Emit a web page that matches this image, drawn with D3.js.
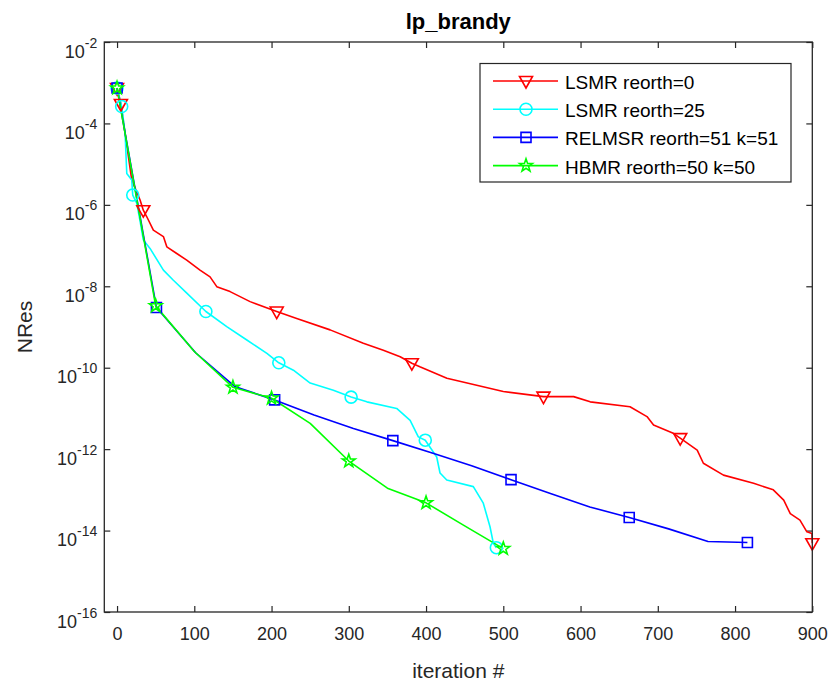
<!DOCTYPE html>
<html><head><meta charset="utf-8">
<script src="https://cdn.jsdelivr.net/npm/d3@7"></script>
<style>
body{margin:0;background:#fff;}
text{font-family:"Liberation Sans",Arial,Helvetica,sans-serif;}
</style>
</head><body>
<svg id="chart" width="834" height="688"></svg>
<script>
// ---------- data ----------
const chartTitle = "lp_brandy";
const xLabel = "iteration #";
const yLabel = "NRes";
const xTickValues = [0,100,200,300,400,500,600,700,800,900];
const yTickExponents = [-2,-4,-6,-8,-10,-12,-14,-16];
const seriesNames = ["LSMR reorth=0","LSMR reorth=25","RELMSR reorth=51 k=51","HBMR reorth=50 k=50"];

const lsmr0X = [0,5,19,29.8,34,38.5,47,60,64.4,77.3,90.2,107.4,120.4,129.1,146.3,172.2,206.7,232.6,275.8,318.8,344.7,366.5,381.6,392,427,500,552,591,612.5,664,686,694.5,720,729,751,759,785,824,849.5,863,871.5,884,893,899.5,900];
const lsmr0Y = [7.4e-4,3.0e-4,4.1e-6,1.32e-6,7.4e-7,5.1e-7,2.4e-7,1.66e-7,9.3e-8,6.4e-8,4.4e-8,2.5e-8,1.7e-8,9.8e-9,7.4e-9,4.2e-9,2.4e-9,1.62e-9,8.5e-10,4.0e-10,2.7e-10,1.86e-10,1.29e-10,1.05e-10,5.5e-11,2.6e-11,1.95e-11,1.95e-11,1.45e-11,1.1e-11,6.3e-12,3.9e-12,2.45e-12,1.86e-12,9.5e-13,4.5e-13,2.3e-13,1.45e-13,1.0e-13,5.6e-14,2.6e-14,1.8e-14,9.3e-15,8.5e-15,4.9e-15];
const lsmr0Marks = [0,1,4,16,22,26,33,44];

const lsmr25X = [0,6,10.4,12.6,19,20.3,25.5,29.8,34,42.7,60,72.9,90.3,115,142,168,194,209.4,228.3,250,280,303,323.4,362,379.4,390,399,413.8,418.1,426.8,461.2,474.1,482.8,487.1,491];
const lsmr25Y = [7.4e-4,2.6e-4,5.8e-5,5.9e-6,4.1e-6,1.74e-6,1.1e-6,4.0e-7,1.38e-7,8.5e-8,2.5e-8,1.41e-8,6.8e-9,2.4e-9,1.02e-9,4.8e-10,2.24e-10,1.32e-10,8.7e-11,4.2e-11,2.8e-11,1.9e-11,1.45e-11,1.0e-11,5.1e-12,2.0e-12,1.66e-12,6.4e-13,2.6e-13,1.74e-13,1.2e-13,4.7e-14,1.24e-14,4.9e-15,3.8e-15];
const lsmr25Marks = [0,1,5,13,17,21,26,34];

const relmsrX = [0,51,102,153,204,255,306,357,408,459,510,561,612,663,714,765,816];
const relmsrY = [7.4e-4,3.0e-9,2.3e-10,3.4e-11,1.62e-11,6.9e-12,3.2e-12,1.62e-12,8.0e-13,3.9e-13,1.78e-13,8.1e-14,3.8e-14,2.1e-14,1.1e-14,5.4e-15,5.1e-15];
const relmsrMarks = [0,1,4,7,10,13,16];

const hbmrX = [0,50,100,150,200,250,300,350,400,450,500];
const hbmrY = [7.4e-4,3.3e-9,2.5e-10,3.3e-11,1.78e-11,4.3e-12,5.1e-13,1.1e-13,4.8e-14,1.3e-14,3.6e-15];
const hbmrMarks = [0,1,3,4,6,8,10];

// ---------- styles ----------
const colors = ["#ff0000","#00ffff","#0000ff","#00ff00"];
const markerTypes = ["triDown","circle","square","star"];
const axisColor = "#262626";

const series = seriesNames.map((name,i)=>{
  const xs=[lsmr0X,lsmr25X,relmsrX,hbmrX][i], ys=[lsmr0Y,lsmr25Y,relmsrY,hbmrY][i];
  const marks=[lsmr0Marks,lsmr25Marks,relmsrMarks,hbmrMarks][i];
  return {name, color:colors[i], marker:markerTypes[i], pts: xs.map((x,j)=>({x, y:ys[j]})), marks};
});

const svg = d3.select("#chart");
const L=104.3, R=812.3, T=42, B=612;
const x = d3.scaleLinear().domain([-16.5,900]).range([L,R]);
const y = d3.scaleLog().domain([1e-16,1e-2]).range([B,T]);

function markerPath(type){
  if(type==="triDown") return "M-6.5,-4.5L6.5,-4.5L0,7Z";
  if(type==="square") return "M-5,-5L5,-5L5,5L-5,5Z";
  if(type==="circle") return d3.arc()({innerRadius:0,outerRadius:6,startAngle:0,endAngle:2*Math.PI});
  const Ro=6.8, Ri=2.7; let p="";
  for(let k=0;k<10;k++){const r=k%2?Ri:Ro; const a=-Math.PI/2+k*Math.PI/5; p+=(k?"L":"M")+(r*Math.cos(a)).toFixed(2)+","+(r*Math.sin(a)).toFixed(2);}
  return p+"Z";
}

// axes
const gx = svg.append("g").attr("transform",`translate(0,${B})`)
  .call(d3.axisBottom(x).tickValues(xTickValues).tickSizeInner(-6).tickSizeOuter(0).tickPadding(15));
const gxt = svg.append("g").attr("transform",`translate(0,${T})`)
  .call(d3.axisTop(x).tickValues(xTickValues).tickSizeInner(-6).tickSizeOuter(0).tickFormat(""));
const gy = svg.append("g").attr("transform",`translate(${L},0)`)
  .call(d3.axisLeft(y).tickValues(yTickExponents.map(e=>Math.pow(10,e))).tickSizeInner(-6).tickSizeOuter(0).tickPadding(10).tickFormat(""));
const gyr = svg.append("g").attr("transform",`translate(${R},0)`)
  .call(d3.axisRight(y).tickValues(yTickExponents.map(e=>Math.pow(10,e))).tickSizeInner(-6).tickSizeOuter(0).tickFormat(""));
[gx,gxt,gy,gyr].forEach(g=>{
  g.select(".domain").remove();
  g.selectAll(".tick line").attr("stroke",axisColor).attr("stroke-width",1.2);
});
gx.selectAll(".tick text").attr("fill",axisColor).attr("font-size",18)
  .style("font-family",'"Liberation Sans",Arial,sans-serif');
gy.selectAll(".tick text").each(function(d){
  const t=d3.select(this);
  const e=Math.round(Math.log10(d));
  t.text(null).attr("fill",axisColor).attr("font-size",18).attr("x",-7).attr("dy",null).attr("y",15)
   .style("font-family",'"Liberation Sans",Arial,sans-serif');
  t.append("tspan").text("10");
  t.append("tspan").attr("font-size",14).attr("dy",-10).text(String(e));
});

// lines
const line = d3.line().x(d=>x(d.x)).y(d=>y(d.y));
const plot = svg.append("g");
series.forEach(s=>{
  plot.append("path").datum(s.pts).attr("d",line).attr("fill","none")
    .attr("stroke",s.color).attr("stroke-width",1.6).attr("stroke-linejoin","round");
});
series.forEach(s=>{
  plot.selectAll(null).data(s.marks.map(i=>s.pts[i])).enter().append("path")
    .attr("d",markerPath(s.marker)).attr("transform",d=>`translate(${x(d.x)},${y(d.y)})`)
    .attr("fill","none").attr("stroke",s.color).attr("stroke-width",1.6);
});

// box
svg.append("rect").attr("x",L).attr("y",T).attr("width",R-L).attr("height",B-T)
  .attr("fill","none").attr("stroke",axisColor).attr("stroke-width",1.3);

// title & labels
svg.append("text").attr("x",(L+R)/2).attr("y",29).attr("text-anchor","middle")
  .attr("font-size",22).attr("font-weight","bold").attr("fill","#000").text(chartTitle);
svg.append("text").attr("x",(L+R)/2).attr("y",678).attr("text-anchor","middle")
  .attr("font-size",21).attr("fill",axisColor).text(xLabel);
svg.append("text").attr("transform",`translate(32,${(T+B)/2}) rotate(-90)`).attr("text-anchor","middle")
  .attr("font-size",21).attr("fill",axisColor).text(yLabel);

// legend
const lg = svg.append("g");
lg.append("rect").attr("x",480).attr("y",63.5).attr("width",311).attr("height",118.5)
  .attr("fill","#fff").attr("stroke",axisColor).attr("stroke-width",1.2);
series.forEach((s,i)=>{
  const yy = 81 + i*28.2;
  lg.append("line").attr("x1",493).attr("x2",558).attr("y1",yy).attr("y2",yy)
    .attr("stroke",s.color).attr("stroke-width",1.6);
  lg.append("path").attr("d",markerPath(s.marker)).attr("transform",`translate(526,${yy})`)
    .attr("fill","none").attr("stroke",s.color).attr("stroke-width",1.6);
  lg.append("text").attr("x",565).attr("y",yy+8).attr("font-size",19).attr("fill","#000").text(s.name);
});
</script>
</body></html>
